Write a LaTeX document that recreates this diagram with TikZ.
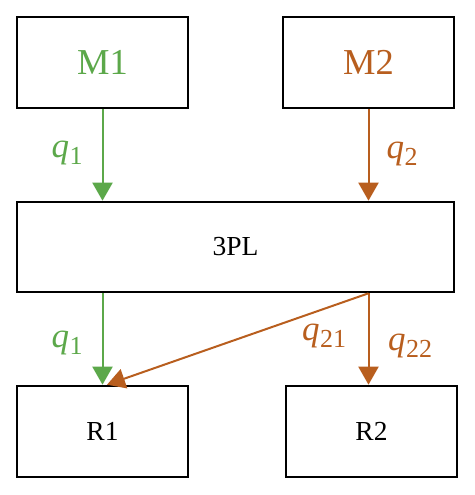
\documentclass[tikz,border=0pt]{standalone}
\usepackage{fontspec}
\setmainfont{Liberation Serif}
\usetikzlibrary{arrows.meta,calc}
\definecolor{mgreen}{RGB}{92,168,74}
\definecolor{morange}{RGB}{184,94,30}
\newcommand{\qlab}[1]{\textit{q}\kern0.5pt\raisebox{-6.5pt}{\fontsize{26}{26}\selectfont #1}}
\begin{document}
\begin{tikzpicture}[x=1pt,y=-1pt,
  box/.style={draw=black,line width=2.6pt,fill=white,inner sep=0pt},
  flow/.style={line width=2pt,-{Triangle[length=18pt,width=20pt]}},
  lbl/.style={inner sep=0pt,font=\fontsize{35}{40}\selectfont}]
\useasboundingbox (0,0) rectangle (474,495);
\node[box,minimum width=171pt,minimum height=91pt,text=mgreen,font=\fontsize{36.5}{40}\selectfont] (M1) at (102.5,62.5) {M1};
\node[box,minimum width=171pt,minimum height=91pt,text=morange,font=\fontsize{36.5}{40}\selectfont] (M2) at (368.5,62.5) {M2};
\node[box,minimum width=437pt,minimum height=90pt,font=\fontsize{27.5}{30}\selectfont] (P) at (235.5,247) {3PL};
\node[box,minimum width=171pt,minimum height=91pt,font=\fontsize{27.5}{30}\selectfont] (R1) at (102.5,431.5) {R1};
\node[box,minimum width=171pt,minimum height=91pt,font=\fontsize{27.5}{30}\selectfont] (R2) at (371.5,431.5) {R2};
\coordinate (a) at (M2.south |- P.south);
\coordinate (b) at ($(R1.north)+(4.5,0)$);
\draw[flow,mgreen] (M1.south) -- (M1.south |- P.north);
\draw[flow,morange] (M2.south) -- (M2.south |- P.north);
\draw[flow,mgreen] (M1.south |- P.south) -- (R1.north);
\draw[flow,morange] (a) -- (a |- R2.north);
\draw[flow,morange] (a) -- (b);
\node[lbl,text=mgreen] (l1) at (67,153) {\qlab{1}};
\node[lbl,text=morange] (l2) at (402,154) {\qlab{2}};
\node[lbl,text=mgreen] (l3) at (67,343) {\qlab{1}};
\node[lbl,text=morange] (l4) at (324,336) {\qlab{21}};
\node[lbl,text=morange] (l5) at (410,346) {\qlab{22}};
\end{tikzpicture}
\end{document}
